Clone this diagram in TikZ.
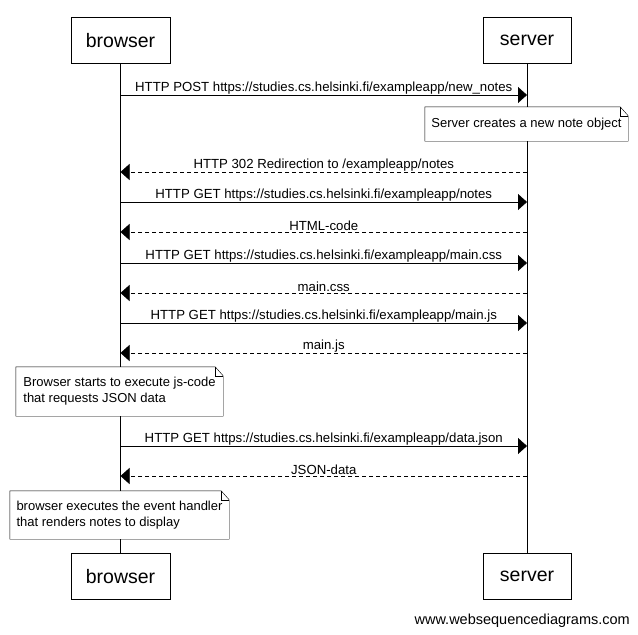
\documentclass[tikz,border=0pt]{standalone}
\usepackage{fontspec}
\setmainfont{Liberation Sans}
\usetikzlibrary{arrows.meta}

\newcommand{\noteframe}[1]{%
  \draw (#1.south west) -- (#1.north west) -- ([xshift=-8pt]#1.north east)
    -- ([yshift=-9pt]#1.north east) -- (#1.south east) -- cycle;
  \draw ([xshift=-8pt]#1.north east) -- ([xshift=-8pt,yshift=-9pt]#1.north east)
    -- ([yshift=-9pt]#1.north east);
}

\begin{document}
\begin{tikzpicture}[
    x=1pt, y=-1pt,
	actor/.style={
	  rectangle,
	  draw,
	  minimum height=46pt,
	  inner sep=0pt,
	  font=\fontsize{19.5}{22}\selectfont
	},
	note/.style={
	  rectangle,
	  fill=white,
	  inner sep=0pt,
	  align=left,
	  font=\fontsize{13}{16}\selectfont
	},
	msg/.style={
	  above=1pt,
	  inner sep=0pt,
	  font=\fontsize{13.2}{15}\selectfont
	},
	line/.style={draw, -{Triangle[length=9pt,width=16pt]}},
	reply/.style={line, dash pattern=on 4pt off 3pt}
	]
	\useasboundingbox (0, 0) rectangle (638, 635);
    \node at (120.5, 40.5) [actor, minimum width=99pt] (btop) {browser};
	\node at (527, 40.5) [actor, minimum width=88pt] (stop) {server};
    \node at (120.5, 576.5) [actor, minimum width=99pt] (bbot) {browser};
	\node at (527, 576.5) [actor, minimum width=88pt] (sbot) {server};
	\draw (btop) -- (bbot);
	\draw (stop) -- (sbot);
	\path[line] (btop |- 0, 95) -- node [msg] {HTTP POST https://studies.cs.helsinki.fi/exampleapp/new\_notes} (stop |- 0, 95);
	\node at (526.5, 124) [note, minimum width=203pt, minimum height=34pt] (snote) {Server creates a new note object};
	\noteframe{snote}
	\path[reply] (stop |- 0, 172) -- node [msg] {HTTP 302 Redirection to /exampleapp/notes} (btop |- 0, 172);
	\path[line] (btop |- 0, 202) -- node [msg] {HTTP GET https://studies.cs.helsinki.fi/exampleapp/notes} (stop |- 0, 202);
	\path[reply] (stop |- 0, 232) -- node [msg] {HTML-code} (btop |- 0, 232);
	\path[line] (btop |- 0, 263) -- node [msg] {HTTP GET https://studies.cs.helsinki.fi/exampleapp/main.css} (stop |- 0, 263);
	\path[reply] (stop |- 0, 293) -- node [msg] {main.css} (btop |- 0, 293);
	\path[line] (btop |- 0, 323) -- node [msg] {HTTP GET https://studies.cs.helsinki.fi/exampleapp/main.js} (stop |- 0, 323);
	\path[reply] (stop |- 0, 353) -- node [msg] {main.js} (btop |- 0, 353);
	\node at (119.5, 391.5) [note, minimum width=207pt, minimum height=49pt] (bnote) {Browser starts to execute js-code\\that requests JSON data};
	\noteframe{bnote}
	\path[line] (btop |- 0, 446) -- node [msg] {HTTP GET https://studies.cs.helsinki.fi/exampleapp/data.json} (stop |- 0, 446);
	\path[reply] (stop |- 0, 476) -- node [msg] {JSON-data} (btop |- 0, 476);
	\node at (119.5, 515) [note, minimum width=219pt, minimum height=48pt] (rnote) {browser executes the event handler\\that renders notes to display};
	\noteframe{rnote}
	\node at (630, 621) [anchor=east, inner sep=0pt, font=\fontsize{14.5}{17}\selectfont] (wsd) {www.websequencediagrams.com};
  \end{tikzpicture}
\end{document}
